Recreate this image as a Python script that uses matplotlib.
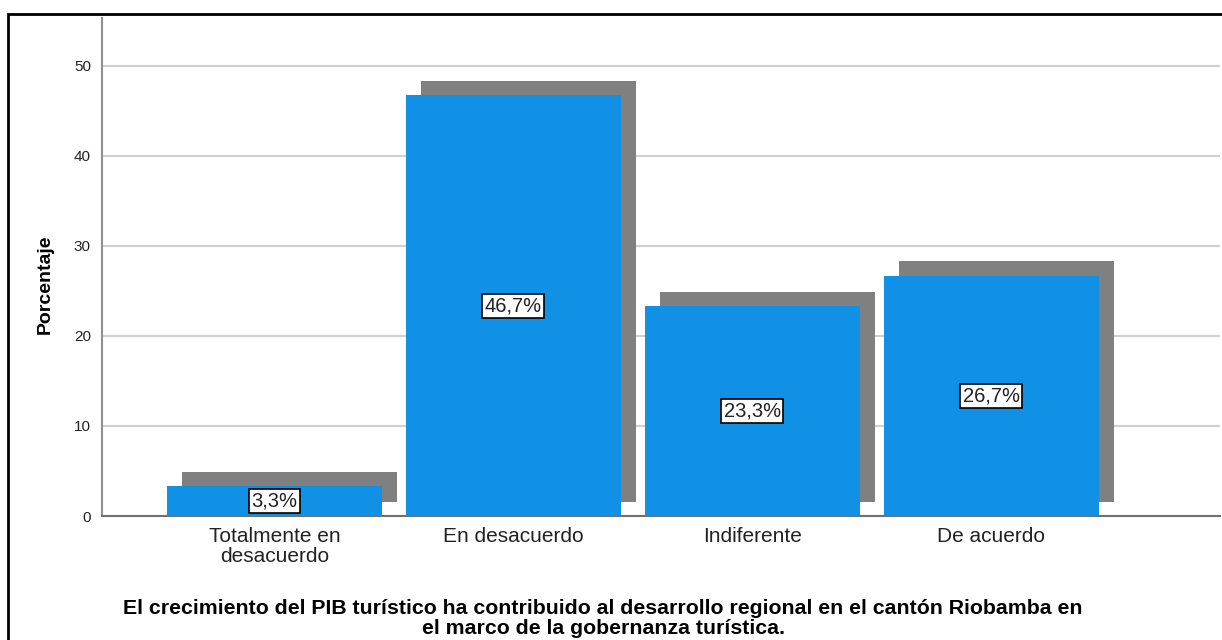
import matplotlib
matplotlib.use('Agg')
import matplotlib.pyplot as plt
from matplotlib.patches import Rectangle

plt.rcParams['font.family'] = ['Liberation Sans', 'DejaVu Sans']

# datos
CATEGORIAS = ['Totalmente en\ndesacuerdo', 'En desacuerdo', 'Indiferente', 'De acuerdo']
PORCENTAJES = [3.3, 46.7, 23.3, 26.7]
ETIQUETAS = ['3,3%', '46,7%', '23,3%', '26,7%']
YTICKS = [0, 10, 20, 30, 40, 50]
TITULO = ('El crecimiento del PIB turístico ha contribuido al desarrollo regional en el cantón Riobamba en\n'
          'el marco de la gobernanza turística.')

AZUL = '#1191e6'
GRIS = '#808080'

fig = plt.figure(figsize=(12.22, 6.4), dpi=100)
ax = fig.add_axes([102 / 1222, 1 - 516 / 640, 1118 / 1222, 498 / 640])

x = list(range(len(CATEGORIAS)))
ancho = 0.9
# sombra desplazada
ax.bar([i + 0.063 for i in x], PORCENTAJES, width=ancho, bottom=1.6,
       color=GRIS, zorder=2)
ax.bar(x, PORCENTAJES, width=ancho, color=AZUL, zorder=3)

for i, (v, lab) in enumerate(zip(PORCENTAJES, ETIQUETAS)):
    ax.text(i, v / 2, lab, ha='center', va='center', fontsize=14.5, zorder=5,
            color='#222222',
            bbox=dict(boxstyle='square,pad=0.12', fc='white', ec='black', lw=1.2))

ax.set_xlim(-0.722, 3.958)
ax.set_ylim(0, 55.3)
ax.set_yticks(YTICKS)
ax.set_xticks(x)
ax.set_xticklabels(CATEGORIAS, fontsize=15, color='#222222', linespacing=1.05)
ax.tick_params(axis='y', length=0, pad=8, labelsize=11, labelcolor='#222222')
ax.tick_params(axis='x', length=0, pad=8)
ax.yaxis.grid(True, color='#d0d0d0', lw=1.5, zorder=0)
ax.set_axisbelow(True)

for s in ['top', 'right']:
    ax.spines[s].set_visible(False)
ax.spines['left'].set_color('#909090')
ax.spines['left'].set_linewidth(1.5)
ax.spines['bottom'].set_color('#707070')
ax.spines['bottom'].set_linewidth(1.5)

fig.text(45 / 1222, 1 - 284 / 640, 'Porcentaje', rotation=90, ha='center', va='center',
         fontsize=14, fontweight='bold')

fig.text(0.4935, 1 - 618.5 / 640, TITULO, ha='center', va='center', fontsize=15.3,
         fontweight='bold', linespacing=1.0)

# marco negro
fig.patches.append(Rectangle((8 / 1222, -0.2), 1.2, 1 - 14 / 640 + 0.2,
                             transform=fig.transFigure, fill=False, ec='black', lw=2))

fig.savefig('out.png', dpi=100)
